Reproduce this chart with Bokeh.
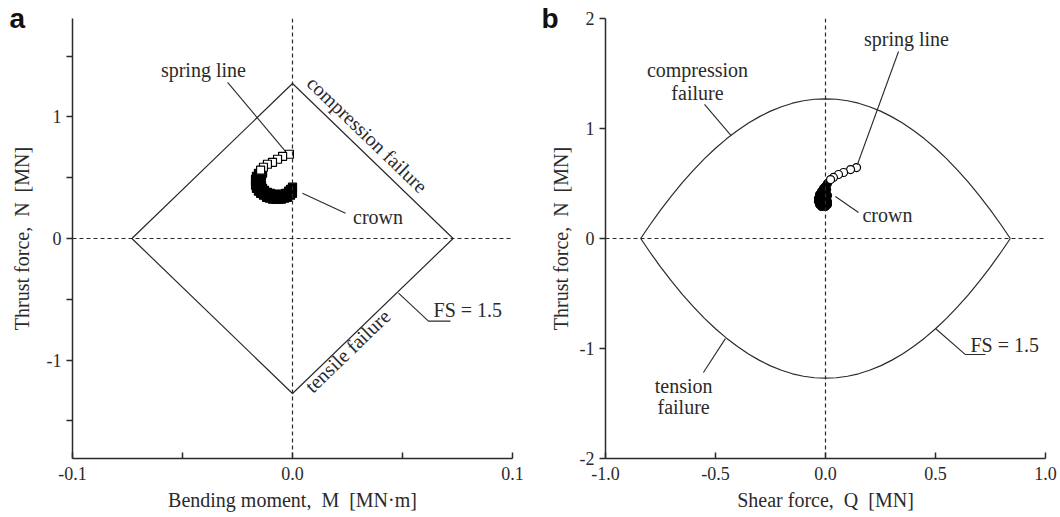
from bokeh.plotting import figure
from bokeh.models import Label, Span, FixedTicker, Range1d, Title
from bokeh.layouts import row
from bokeh.embed import file_html
from bokeh.resources import INLINE

# ---------------- data ----------------
# panel a : M-N interaction (FS = 1.5)
diamond_M = [-0.073, 0.0, 0.073, 0.0, -0.073]
diamond_N = [0.0, 1.275, 0.0, -1.275, 0.0]

# spring line -> crown : sparse open part near the spring line
sq_tail_M = [-0.0014, -0.0045, -0.0068, -0.0091, -0.0114, -0.0132, -0.0145]
sq_tail_N = [0.693, 0.676, 0.652, 0.627, 0.611, 0.586, 0.562]
# dense overlapping part down to the crown
sq_band_M = [-0.0145, -0.0155, -0.0164, -0.0168, -0.0168, -0.0168, -0.0164, -0.0155,
             -0.0145, -0.0132, -0.0118, -0.0105, -0.0091, -0.0077, -0.0064, -0.0050,
             -0.0036, -0.0023, -0.0009, 0.0,
             -0.0136, -0.0141, -0.0145, -0.0145, -0.0141, -0.0136, -0.0127, -0.0114,
             -0.0100, -0.0086, -0.0073, -0.0059, -0.0045, -0.0032, -0.0018, -0.0009, 0.0]
sq_band_N = [0.553, 0.537, 0.512, 0.487, 0.463, 0.438, 0.413, 0.389,
             0.372, 0.356, 0.339, 0.331, 0.323, 0.323, 0.323, 0.323,
             0.331, 0.339, 0.356, 0.372,
             0.537, 0.512, 0.487, 0.463, 0.438, 0.413, 0.397, 0.380,
             0.372, 0.364, 0.364, 0.364, 0.364, 0.372, 0.389, 0.405, 0.422]

# panel b : Q-N interaction (FS = 1.5)
lens_Q = [-0.84, -0.80, -0.75, -0.70, -0.65, -0.60, -0.55, -0.50, -0.45, -0.40,
          -0.35, -0.30, -0.25, -0.20, -0.15, -0.10, -0.05, 0.0,
          0.05, 0.10, 0.15, 0.20, 0.25, 0.30, 0.35, 0.40, 0.45, 0.50,
          0.55, 0.60, 0.65, 0.70, 0.75, 0.80, 0.84]
lens_N_comp = [0.0, 0.118, 0.258, 0.388, 0.510, 0.622, 0.726, 0.820, 0.906, 0.982,
               1.050, 1.108, 1.158, 1.198, 1.230, 1.252, 1.266, 1.270,
               1.266, 1.252, 1.230, 1.198, 1.158, 1.108, 1.050, 0.982, 0.906, 0.820,
               0.726, 0.622, 0.510, 0.388, 0.258, 0.118, 0.0]
lens_N_tens = [0.0, -0.118, -0.258, -0.388, -0.510, -0.622, -0.726, -0.820, -0.906, -0.982,
               -1.050, -1.108, -1.158, -1.198, -1.230, -1.252, -1.266, -1.270,
               -1.266, -1.252, -1.230, -1.198, -1.158, -1.108, -1.050, -0.982, -0.906, -0.820,
               -0.726, -0.622, -0.510, -0.388, -0.258, -0.118, 0.0]

circ_tail_Q = [0.141, 0.114, 0.082, 0.059, 0.036, 0.023]
circ_tail_N = [0.645, 0.627, 0.600, 0.582, 0.555, 0.536]
circ_blob_Q = [0.009, 0.000, -0.009, 0.005, -0.018, 0.000, -0.027, -0.009, 0.009,
               -0.032, -0.014, 0.005, -0.032, -0.014, 0.009, -0.027, -0.009, 0.009,
               -0.018, 0.000]
circ_blob_N = [0.500, 0.473, 0.455, 0.445, 0.427, 0.418, 0.400, 0.391, 0.391,
               0.364, 0.364, 0.364, 0.336, 0.336, 0.336, 0.309, 0.309, 0.309,
               0.291, 0.291]

a_xticks = [-0.1, -0.05, 0.0, 0.05, 0.1]
a_xlabels = {-0.1: "-0.1", -0.05: "", 0.0: "0.0", 0.05: "", 0.1: "0.1"}
a_yticks = [-1.5, -1.0, -0.5, 0.0, 0.5, 1.0, 1.5]
a_ylabels = {-1.5: "", -1.0: "-1", -0.5: "", 0.0: "0", 0.5: "", 1.0: "1", 1.5: ""}
b_xticks = [-1.0, -0.5, 0.0, 0.5, 1.0]
b_xlabels = {-1.0: "-1.0", -0.5: "-0.5", 0.0: "0.0", 0.5: "0.5", 1.0: "1.0"}
b_yticks = [-2, -1, 0, 1, 2]
b_ylabels = {-2: "-2", -1: "-1", 0: "0", 1: "1", 2: "2"}

SERIF = "Liberation Serif"
INK = "#2a2a2a"
ANN = "20px"


def style(p, xt, xl, yt, yl, xlabel, ylabel, ylab_standoff):
    p.grid.visible = False
    p.outline_line_color = None
    p.background_fill_color = "white"
    p.border_fill_color = "white"
    for ax in (p.xaxis[0], p.yaxis[0]):
        ax.axis_line_color = INK
        ax.axis_line_width = 1.5
        ax.major_tick_line_color = INK
        ax.major_tick_line_width = 1.5
        ax.minor_tick_line_color = None
        ax.major_label_text_font = SERIF
        ax.major_label_text_font_size = "18px"
        ax.major_label_text_color = INK
        ax.axis_label_text_font = SERIF
        ax.axis_label_text_font_style = "normal"
        ax.axis_label_text_font_size = "20px"
        ax.axis_label_text_color = INK
    xa, ya = p.xaxis[0], p.yaxis[0]
    xa.ticker = FixedTicker(ticks=xt)
    xa.major_label_overrides = xl
    xa.major_tick_in = 6
    xa.major_tick_out = 0
    xa.major_label_standoff = 8
    xa.axis_label = xlabel
    xa.axis_label_standoff = 6
    ya.ticker = FixedTicker(ticks=yt)
    ya.major_label_overrides = yl
    ya.major_tick_in = 0
    ya.major_tick_out = 6
    ya.major_label_standoff = 5
    ya.axis_label = ylabel
    ya.axis_label_standoff = ylab_standoff
    p.add_layout(Span(location=0, dimension="height", line_color=INK,
                      line_width=1.2, line_dash="4 3"))
    p.add_layout(Span(location=0, dimension="width", line_color=INK,
                      line_width=1.2, line_dash="4 3"))


def lab(p, x, y, text, align="center", base="middle", angle=0.0, size=ANN):
    p.add_layout(Label(x=x, y=y, text=text, text_align=align, text_baseline=base,
                       angle=angle, text_font=SERIF, text_font_size=size,
                       text_color=INK))


def letter(p, text, offset):
    p.add_layout(Title(text=text, align="left", offset=offset, standoff=-31,
                       text_font="Liberation Sans", text_font_style="bold",
                       text_font_size="28px", text_color="#111111"), "above")


# ---------------- panel a ----------------
p1 = figure(width=536, height=517, x_range=Range1d(-0.1, 0.1),
            y_range=Range1d(-1.81, 1.81), output_backend="svg",
            toolbar_location=None, min_border_left=72, min_border_right=24,
            min_border_top=18, min_border_bottom=59)
style(p1, a_xticks, a_xlabels, a_yticks, a_ylabels,
      "Bending moment,\u00a0 M\u00a0 [MN\u00b7m]", "Thrust force,\u00a0 N\u00a0 [MN]", 11)
p1.line(diamond_M, diamond_N, line_color=INK, line_width=1.2)
p1.scatter(sq_band_M, sq_band_N, marker="square", size=8, fill_color="black",
           line_color="black", line_width=1.2)
p1.scatter(sq_tail_M, sq_tail_N, marker="square", size=8, fill_color="white",
           line_color="black", line_width=1.2)

p1.line([-0.0295, -0.0032], [1.285, 0.717], line_color=INK, line_width=1.1)
lab(p1, -0.0405, 1.39, "spring line")
p1.line([0.0045, 0.0241], [0.372, 0.208], line_color=INK, line_width=1.1)
lab(p1, 0.0275, 0.175, "crown", align="left")
lab(p1, 0.034, 0.856, "compression failure", angle=-0.766)
lab(p1, 0.025, -0.925, "tensile failure", angle=0.766)
p1.line([0.0482, 0.0618, 0.0718], [-0.45, -0.68, -0.68], line_color=INK, line_width=1.1)
lab(p1, 0.0641, -0.59, "FS = 1.5", align="left")
letter(p1, "a", -63)

# ---------------- panel b ----------------
p2 = figure(width=524, height=517, x_range=Range1d(-1, 1),
            y_range=Range1d(-2, 2), output_backend="svg",
            toolbar_location=None, min_border_left=69, min_border_right=15,
            min_border_top=18, min_border_bottom=59)
style(p2, b_xticks, b_xlabels, b_yticks, b_ylabels,
      "Shear force,\u00a0 Q\u00a0 [MN]", "Thrust force,\u00a0 N\u00a0 [MN]", 5)
p2.line(lens_Q, lens_N_comp, line_color=INK, line_width=1.2)
p2.line(lens_Q, lens_N_tens, line_color=INK, line_width=1.2)
p2.scatter(circ_blob_Q, circ_blob_N, marker="circle", size=8, fill_color="black",
           line_color="black", line_width=1.2)
p2.scatter(circ_tail_Q, circ_tail_N, marker="circle", size=8, fill_color="white",
           line_color="black", line_width=1.2)

p2.line([0.332, 0.145], [1.70, 0.673], line_color=INK, line_width=1.1)
lab(p2, 0.368, 1.818, "spring line")
p2.line([0.045, 0.15], [0.382, 0.236], line_color=INK, line_width=1.1)
lab(p2, 0.168, 0.218, "crown", align="left")
lab(p2, -0.582, 1.536, "compression")
lab(p2, -0.582, 1.327, "failure")
p2.line([-0.55, -0.43], [1.22, 0.937], line_color=INK, line_width=1.1)
p2.line([0.5, 0.636, 0.727], [-0.818, -1.055, -1.055], line_color=INK, line_width=1.1)
lab(p2, 0.659, -0.964, "FS = 1.5", align="left")
lab(p2, -0.645, -1.345, "tension")
lab(p2, -0.645, -1.536, "failure")
p2.line([-0.555, -0.455], [-1.218, -0.91], line_color=INK, line_width=1.1)
letter(p2, "b", -64)

layout = row(p1, p2)
open("out.html", "w").write(file_html(layout, INLINE))
